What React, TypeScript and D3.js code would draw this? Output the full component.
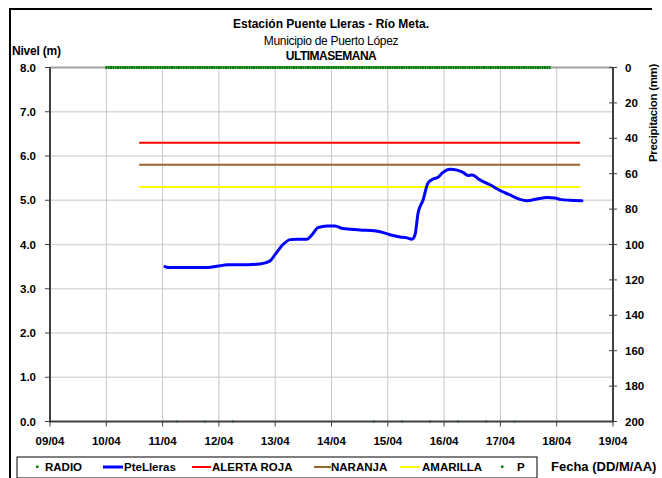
import React from "react";
import * as d3 from "d3";

// ---- data ----
const levelTimes = [
  "11/04 01:00", "11/04 02:18", "11/04 19:00", "12/04 00:30", "12/04 03:30", "12/04 09:00",
  "12/04 17:30", "12/04 21:48", "12/04 23:54", "13/04 03:20", "13/04 06:20", "13/04 09:17",
  "13/04 13:34", "13/04 15:42", "13/04 18:15", "13/04 22:05", "14/04 01:30", "14/04 04:54",
  "14/04 12:09", "14/04 20:40", "15/04 00:56", "15/04 05:12", "15/04 08:11", "15/04 10:19",
  "15/04 11:36", "15/04 12:52", "15/04 15:00", "15/04 17:08", "15/04 19:16", "15/04 21:24",
  "15/04 23:31", "16/04 02:31", "16/04 05:30", "16/04 08:03", "16/04 10:12", "16/04 11:54",
  "16/04 15:18", "16/04 19:34", "16/04 23:50", "17/04 04:06", "17/04 08:21", "17/04 11:20",
  "17/04 15:36", "17/04 19:52", "17/04 23:17", "18/04 01:25", "18/04 05:40", "18/04 10:46",
];
const levelValues = [
  3.50, 3.48, 3.48, 3.52, 3.54, 3.54,
  3.56, 3.63, 3.77, 4.00, 4.11, 4.12,
  4.12, 4.22, 4.38, 4.42, 4.42, 4.36,
  4.33, 4.29, 4.22, 4.17, 4.15, 4.12,
  4.22, 4.70, 5.00, 5.39, 5.48, 5.52,
  5.63, 5.70, 5.68, 5.63, 5.56, 5.57,
  5.46, 5.35, 5.22, 5.12, 5.02, 4.99,
  5.03, 5.06, 5.05, 5.02, 5.00, 4.99,
];

const thresholdNames = ["ALERTA ROJA", "NARANJA", "AMARILLA"];
const thresholdValues = [6.3, 5.8, 5.3];
const thresholdColors = ["#ff0000", "#996633", "#ffff00"];
const thresholdStart = "10/04 14:00";
const thresholdEnd = "18/04 10:00";

// RADIO precipitation: hourly readings of 0 mm
const radioStart = "10/04 00:00";
const radioEnd = "17/04 21:00";
const radioValue = 0;

const pTimes = [
  "11/04 06:00", "11/04 18:00", "12/04 06:00", "14/04 18:00", "15/04 06:00",
  "15/04 18:00", "16/04 06:00", "16/04 18:00", "17/04 06:00",
];
const pValues = [0, 0, 0, 0, 0, 0, 0, 0, 0];

const xDomain = ["09/04 00:00", "19/04 00:00"];
const leftTicks = [0, 1, 2, 3, 4, 5, 6, 7, 8];
const rightTicks = [0, 20, 40, 60, 80, 100, 120, 140, 160, 180, 200];

const parse = d3.timeParse("%d/%m %H:%M");
const fmt = d3.timeFormat("%d/%m");
const FONT = "'Liberation Sans', Arial, sans-serif";

export default function App() {
  const W = 662, H = 478;
  const L = 50, R = 613, T = 67.5, B = 421.5;

  const x = d3.scaleTime().domain(xDomain.map((s) => parse(s) as Date)).range([L, R]);
  const yL = d3.scaleLinear().domain([0, 8]).range([B, T]);
  const yR = d3.scaleLinear().domain([200, 0]).range([B, T]);

  const days = d3.timeDay.range(x.domain()[0], d3.timeDay.offset(x.domain()[1], 1));

  const levelData = levelTimes.map((t, i) => ({ t: parse(t) as Date, v: levelValues[i] }));
  const line = d3
    .line<{ t: Date; v: number }>()
    .x((d) => x(d.t))
    .y((d) => yL(d.v))
    .curve(d3.curveMonotoneX);

  const radioTimes = d3.timeHour.range(parse(radioStart) as Date, d3.timeHour.offset(parse(radioEnd) as Date, 1));

  const ts = parse(thresholdStart) as Date;
  const te = parse(thresholdEnd) as Date;

  const legendY = 467;
  const legendItems = [
    { kind: "dot", color: "#008000", label: "RADIO", mx: 37, tx: 45 },
    { kind: "line", color: "#0000ff", label: "PteLleras", mx: 103, mx2: 123, tx: 124, w: 3 },
    { kind: "line", color: thresholdColors[0], label: thresholdNames[0], mx: 192, mx2: 211, tx: 212, w: 2 },
    { kind: "line", color: thresholdColors[1], label: thresholdNames[1], mx: 314, mx2: 331, tx: 331, w: 2 },
    { kind: "line", color: thresholdColors[2], label: thresholdNames[2], mx: 400, mx2: 420, tx: 422, w: 2 },
    { kind: "dot", color: "#008000", label: "P", mx: 502, tx: 517 },
  ];

  return (
    <svg
      width={W}
      height={H}
      style={{ position: "absolute", left: 0, top: 0, background: "#fff", fontFamily: FONT }}
    >
      <rect x={0} y={0} width={W} height={H} fill="#fff" />
      {/* outer frame */}
      <line x1={10} x2={10} y1={8} y2={H} stroke="#000" strokeWidth={2} />
      <line x1={9} x2={652} y1={9} y2={9} stroke="#000" strokeWidth={2} />

      {/* grid */}
      {leftTicks.filter((v) => v > 0 && v < 8).map((v) => (
        <line key={"h" + v} x1={L} x2={R} y1={yL(v)} y2={yL(v)} stroke="#d9d9d9" strokeWidth={1.5} />
      ))}
      {days.slice(1, -1).map((d, i) => (
        <line key={"v" + i} x1={x(d)} x2={x(d)} y1={T} y2={B} stroke="#c8c8c8" strokeWidth={1} />
      ))}
      <line x1={L} x2={R} y1={T} y2={T} stroke="#a0a0a0" strokeWidth={2} />

      {/* thresholds */}
      {thresholdValues.map((v, i) => (
        <line key={"t" + i} x1={x(ts)} x2={x(te)} y1={yL(v)} y2={yL(v)} stroke={thresholdColors[i]} strokeWidth={2} />
      ))}

      {/* level line */}
      <path d={line(levelData) || ""} fill="none" stroke="#0000ff" strokeWidth={3} strokeLinejoin="round" strokeLinecap="round" />

      {/* radio markers */}
      {radioTimes.map((t, i) => (
        <rect key={"r" + i} x={x(t) - 1} y={yR(radioValue) - 1.5} width={2} height={3} fill="#008000" />
      ))}

      {/* P markers */}
      {pTimes.map((t, i) => (
        <rect key={"p" + i} x={x(parse(t) as Date) - 1} y={yL(pValues[i]) - 1} width={2} height={2} fill="#00a000" />
      ))}

      {/* axes */}
      <line x1={L} x2={L} y1={T} y2={B + 1} stroke="#404040" strokeWidth={2} />
      <line x1={R} x2={R} y1={T} y2={B + 1} stroke="#404040" strokeWidth={2} />
      <line x1={L} x2={R} y1={B} y2={B} stroke="#404040" strokeWidth={2} />

      {leftTicks.map((v) => (
        <g key={"lt" + v}>
          <line x1={L - 5} x2={L} y1={yL(v)} y2={yL(v)} stroke="#404040" strokeWidth={1} />
          <text x={36} y={yL(v) + 4} textAnchor="end" fontSize={11.5} fontWeight="bold" fill="#000">
            {v.toFixed(1)}
          </text>
        </g>
      ))}
      {rightTicks.map((v) => (
        <g key={"rt" + v}>
          <line x1={R - 4} x2={R + 4} y1={yR(v)} y2={yR(v)} stroke="#404040" strokeWidth={1} />
          <text x={625} y={yR(v) + 4} textAnchor="start" fontSize={11.5} fontWeight="bold" fill="#000">
            {v}
          </text>
        </g>
      ))}
      {days.map((d, i) => (
        <g key={"xt" + i}>
          <line x1={x(d)} x2={x(d)} y1={B} y2={B + 5} stroke="#404040" strokeWidth={1} />
          <text x={x(d)} y={445} textAnchor="middle" fontSize={11.5} fontWeight="bold" fill="#000">
            {fmt(d)}
          </text>
        </g>
      ))}

      {/* titles */}
      <text x={331} y={28} textAnchor="middle" fontSize={12} fontWeight="bold">
        Estación Puente Lleras - Río Meta.
      </text>
      <text x={331} y={45} textAnchor="middle" fontSize={12} letterSpacing={-0.3}>
        Municipio de Puerto López
      </text>
      <text x={331} y={60} textAnchor="middle" fontSize={12} fontWeight="bold" letterSpacing={-0.5}>
        ULTIMASEMANA
      </text>
      <text x={12} y={55} fontSize={12} fontWeight="bold" letterSpacing={-0.2}>
        Nivel (m)
      </text>
      <text
        transform={`translate(657,113) rotate(-90)`}
        textAnchor="middle"
        fontSize={11.5}
        fontWeight="bold"
        letterSpacing={-0.3}
      >
        Precipitacion (mm)
      </text>

      {/* legend */}
      <rect x={17} y={457} width={520} height={21} fill="#fff" stroke="#000" strokeWidth={1} />
      {legendItems.map((it, i) => (
        <g key={"lg" + i}>
          {it.kind === "dot" ? (
            <rect x={it.mx - 1} y={legendY - 1.5} width={2.5} height={2.5} fill={it.color} />
          ) : (
            <line x1={it.mx} x2={it.mx2} y1={legendY} y2={legendY} stroke={it.color} strokeWidth={it.w} />
          )}
          <text x={it.tx} y={legendY + 4} fontSize={11.5} fontWeight="bold">
            {it.label}
          </text>
        </g>
      ))}
      <text x={551} y={471} fontSize={13} fontWeight="bold">
        Fecha (DD/M/AA)
      </text>
    </svg>
  );
}
